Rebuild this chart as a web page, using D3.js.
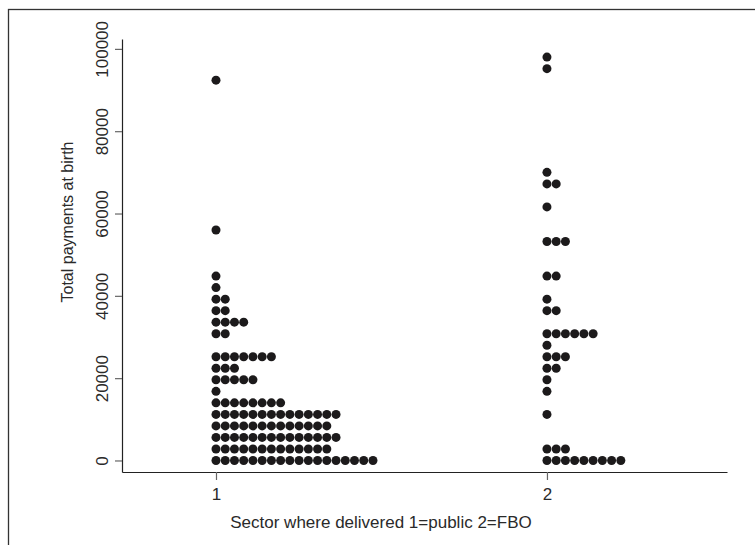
<!DOCTYPE html>
<html>
<head>
<meta charset="utf-8">
<script src="https://cdn.jsdelivr.net/npm/d3@7"></script>
<style>
  body { margin: 0; background: #fff; }
  svg { display: block; font-family: "Liberation Sans", Arial, sans-serif; }
</style>
</head>
<body>
<div id="chart"></div>
<script>
// dot plot of total payments at birth by sector (binned values, dots stacked sideways)

var sectors = [1, 2];
var xTicks = [1, 2];
var yTicks = [0, 20000, 40000, 60000, 80000, 100000];

// public sector: bin value and number of dots in that bin
var publicPayments = [0, 2800, 5600, 8400, 11200, 14000, 16800, 19600, 22400, 25200,
  30800, 33600, 36400, 39200, 42000, 44800, 56000, 92400];
var publicCounts = [18, 13, 14, 13, 14, 8, 1, 5, 3, 7,
  2, 4, 2, 2, 1, 1, 1, 1];

// FBO sector
var fboPayments = [0, 2800, 11200, 16800, 19600, 22400, 25200, 28000, 30800, 36400,
  39200, 44800, 53200, 61600, 67200, 70000, 95200, 98000];
var fboCounts = [9, 3, 1, 1, 1, 2, 3, 1, 6, 2,
  1, 2, 3, 1, 2, 1, 1, 1];

var width = 755, height = 545;
var svg = d3.select("#chart").append("svg")
  .attr("width", width)
  .attr("height", height);

// outer frame (runs off the right and bottom of the picture)
svg.append("rect")
  .attr("x", 8.5).attr("y", 9.5)
  .attr("width", 780).attr("height", 560)
  .attr("fill", "none")
  .attr("stroke", "#333")
  .attr("stroke-width", 1.3);

let plotLeft = 122, plotRight = 727, plotTop = 39, plotBottom = 472;

let xScale = d3.scaleLinear()
  .domain([0.716, 2.544])
  .range([plotLeft, plotRight]);

let yScale = d3.scaleLinear()
  .domain([-2800, 102400])
  .range([plotBottom, plotTop]);

// horizontal step between neighbouring dots, in x units
let dotStep = 0.0279;

// axes
var xAxis = d3.axisBottom(xScale).tickValues(xTicks)
  .tickSizeInner(8).tickSizeOuter(0).tickPadding(6).tickFormat(d3.format("d"));
var yAxis = d3.axisLeft(yScale).tickValues(yTicks)
  .tickSizeInner(7).tickSizeOuter(0).tickPadding(6).tickFormat(d3.format("d"));

var gx = svg.append("g")
  .attr("transform", "translate(0," + plotBottom + ")")
  .call(xAxis);
var gy = svg.append("g")
  .attr("transform", "translate(" + plotLeft + ",0)")
  .call(yAxis);

[gx, gy].forEach(function(g) {
  g.select(".domain").attr("stroke", "#222").attr("stroke-width", 1.2);
  g.selectAll(".tick line").attr("stroke", "#666").attr("stroke-width", 1.2);
  g.selectAll(".tick text").attr("fill", "#2a2a2a").style("font-size", "17px")
    .style("font-family", "Liberation Sans, Arial, sans-serif");
});
gx.selectAll(".tick text").attr("dy", "0.85em");

// rotate y tick labels
gy.selectAll(".tick text")
  .attr("x", null).attr("dy", null)
  .attr("text-anchor", "middle")
  .attr("transform", "translate(-14,0) rotate(-90)");

// axis titles
svg.append("text")
  .attr("x", 381).attr("y", 528)
  .attr("text-anchor", "middle")
  .attr("fill", "#2a2a2a")
  .style("font-size", "17px")
  .text("Sector where delivered 1=public 2=FBO");

svg.append("text")
  .attr("transform", "translate(73,222) rotate(-90)")
  .attr("text-anchor", "middle")
  .attr("fill", "#2a2a2a")
  .style("font-size", "16px")
  .text("Total payments at birth");

// expand bins into single dots
function buildDots(sector, payments, counts) {
  var dots = [];
  for (var i = 0; i < payments.length; i++) {
    for (var j = 0; j < counts[i]; j++) {
      dots.push({ sector: sector, value: payments[i], slot: j });
    }
  }
  return dots;
}

var dots = buildDots(sectors[0], publicPayments, publicCounts)
  .concat(buildDots(sectors[1], fboPayments, fboCounts));

svg.append("g").selectAll("circle")
  .data(dots)
  .enter()
  .append("circle")
    .attr("cx", function(d) { return xScale(d.sector + d.slot * dotStep); })
    .attr("cy", function(d) { return yScale(d.value); })
    .attr("r", 4.5)
    .attr("fill", "#1c1a1b");
</script>
</body>
</html>
